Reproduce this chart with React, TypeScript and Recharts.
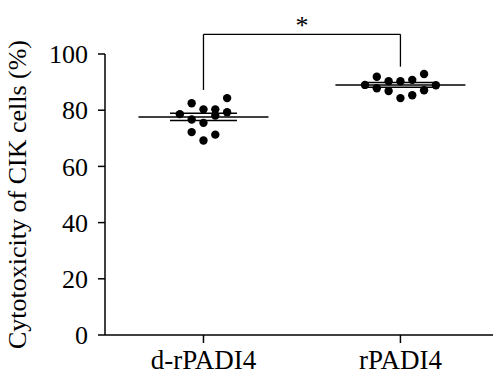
import { ScatterChart, Scatter, XAxis, YAxis, ReferenceLine, ReferenceDot } from "recharts"

// groups on the x axis
const categories = ["d-rPADI4", "rPADI4"]

// cytotoxicity (%) of each replicate, and the swarm column it sits in
const dValues = [82.5, 84.3, 78.6, 80.3, 80.3, 79.3, 78.1, 76.7, 75.5, 72.2, 71.3, 69.2]
const dColumns = [-1, 2, -2, 0, 1, 2, 1, -1, 0, -1, 1, 0]
const rValues = [91.9, 92.9, 89.0, 90.3, 90.3, 90.8, 88.9, 87.8, 86.8, 85.3, 87.1, 84.3]
const rColumns = [-2, 2, -3, -1, 0, 1, 3, -2, -1, 1, 2, 0]

// mean and SEM per group
const means = [77.6, 89.0]
const sems = [1.3, 0.85]

const yTicks = [0, 20, 40, 60, 80, 100]

// significance bracket: top level, leg ends, label
const bracketTop = 107
const bracketLegs = [87.2, 95.5]
const sigLabel = "*"

const COLUMN_STEP = 0.06
const MEAN_HALF = 0.33
const SEM_HALF = 0.17

const points = [
  ...dValues.map((v, i) => ({ x: 1 + dColumns[i] * COLUMN_STEP, y: v })),
  ...rValues.map((v, i) => ({ x: 2 + rColumns[i] * COLUMN_STEP, y: v })),
]

const font = "'Liberation Serif', 'Times New Roman', serif"

export default function App() {
  return (
    <div style={{ position: "absolute", left: 0, top: 0, background: "#fff" }}>
      <ScatterChart width={500} height={383} margin={{ top: 54, right: 7, left: 5, bottom: 18 }}>
        <XAxis
          type="number"
          dataKey="x"
          domain={[0.5, 2.47]}
          ticks={[1, 2]}
          tickFormatter={(v: number) => categories[v - 1]}
          axisLine={{ stroke: "#000", strokeWidth: 1.5 }}
          tickLine={{ stroke: "#000", strokeWidth: 1.5 }}
          tickSize={8}
          tickMargin={7}
          height={30}
          tick={{ fill: "#000", fontSize: 27, fontFamily: font }}
        />
        <YAxis
          type="number"
          dataKey="y"
          domain={[0, 100]}
          ticks={yTicks}
          axisLine={{ stroke: "#000", strokeWidth: 1.5 }}
          tickLine={{ stroke: "#000", strokeWidth: 1.5 }}
          tickSize={7}
          tickMargin={10}
          width={100}
          tick={{ fill: "#000", fontSize: 26, fontFamily: font }}
          label={{
            value: "Cytotoxicity of CIK cells (%)",
            angle: -90,
            position: "insideLeft",
            offset: 12,
            fill: "#000",
            style: { textAnchor: "middle", fill: "#000", fontSize: 26, fontFamily: font },
          }}
        />

        {means.map((m, i) => (
          <ReferenceLine
            key={`mean-${i}`}
            segment={[{ x: i + 1 - MEAN_HALF, y: m }, { x: i + 1 + MEAN_HALF, y: m }]}
            stroke="#000"
            strokeWidth={1.5}
          />
        ))}
        {means.map((m, i) =>
          [m + sems[i], m - sems[i]].map((level, j) => (
            <ReferenceLine
              key={`sem-${i}-${j}`}
              segment={[{ x: i + 1 - SEM_HALF, y: level }, { x: i + 1 + SEM_HALF, y: level }]}
              stroke="#000"
              strokeWidth={1.5}
            />
          ))
        )}

        <ReferenceLine
          segment={[{ x: 1, y: bracketLegs[0] }, { x: 1, y: bracketTop }]}
          stroke="#000"
          strokeWidth={1.3}
          ifOverflow="visible"
        />
        <ReferenceLine
          segment={[{ x: 1, y: bracketTop }, { x: 2, y: bracketTop }]}
          stroke="#000"
          strokeWidth={1.3}
          ifOverflow="visible"
        />
        <ReferenceLine
          segment={[{ x: 2, y: bracketTop }, { x: 2, y: bracketLegs[1] }]}
          stroke="#000"
          strokeWidth={1.3}
          ifOverflow="visible"
        />
        <ReferenceDot
          x={1.5}
          y={bracketTop}
          r={0}
          ifOverflow="visible"
          label={{
            value: sigLabel,
            position: "top",
            offset: 0,
            fill: "#000",
            style: { fill: "#000", fontSize: 26, fontFamily: font },
          }}
        />

        <Scatter
          data={points}
          isAnimationActive={false}
          shape={(p: any) => <circle cx={p.cx} cy={p.cy} r={4.2} fill="#000" />}
        />
      </ScatterChart>
    </div>
  )
}
